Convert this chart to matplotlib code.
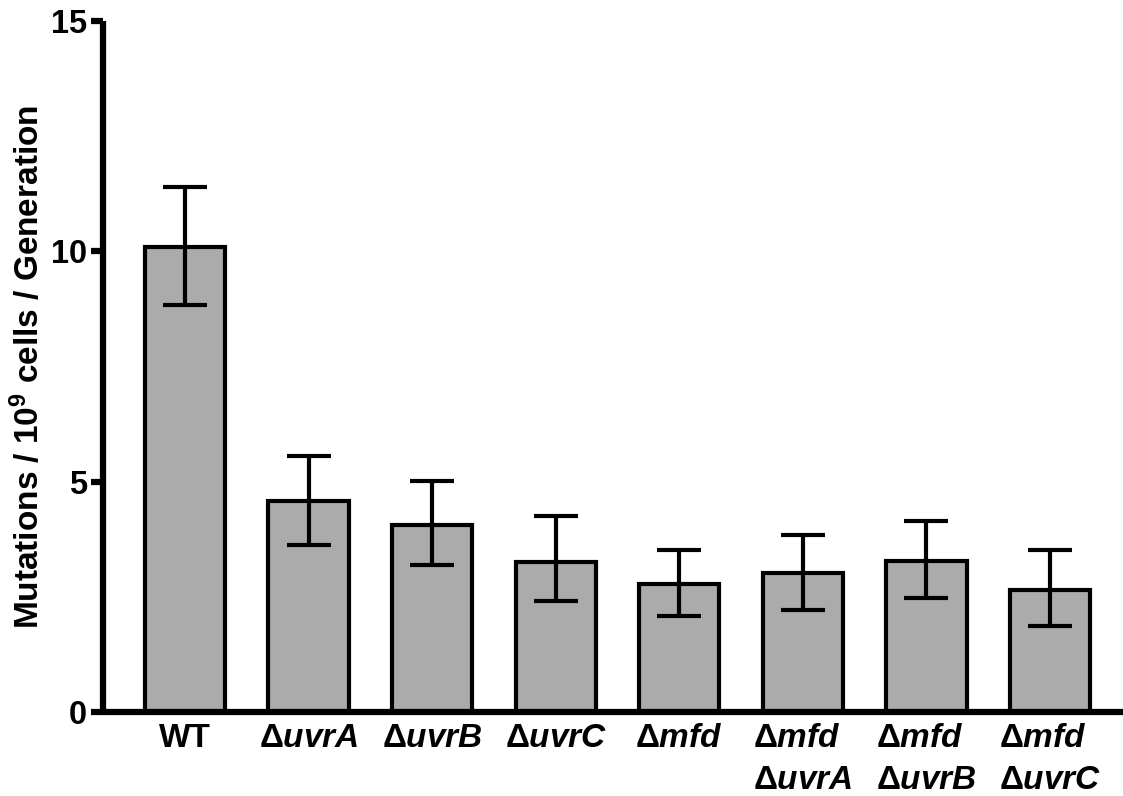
import matplotlib
matplotlib.use('Agg')
import matplotlib.pyplot as plt
import numpy as np

plt.rcParams['font.family'] = ['Liberation Sans', 'DejaVu Sans']
plt.rcParams['font.weight'] = 'bold'
plt.rcParams['mathtext.fontset'] = 'custom'
plt.rcParams['mathtext.rm'] = 'Liberation Sans:bold'
plt.rcParams['mathtext.bf'] = 'Liberation Sans:bold'
plt.rcParams['mathtext.it'] = 'Liberation Sans:bold:italic'
plt.rcParams['mathtext.bfit'] = 'Liberation Sans:bold:italic'

# strains and measured mutation rates (mean, error bar up / down)
strains = ['WT', r'$\mathbf{\Delta}\mathbfit{uvrA}$', r'$\mathbf{\Delta}\mathbfit{uvrB}$',
           r'$\mathbf{\Delta}\mathbfit{uvrC}$', r'$\mathbf{\Delta}\mathbfit{mfd}$',
           r'$\mathbf{\Delta}\mathbfit{mfd}$' + '\n' + r'$\mathbf{\Delta}\mathbfit{uvrA}$',
           r'$\mathbf{\Delta}\mathbfit{mfd}$' + '\n' + r'$\mathbf{\Delta}\mathbfit{uvrB}$',
           r'$\mathbf{\Delta}\mathbfit{mfd}$' + '\n' + r'$\mathbf{\Delta}\mathbfit{uvrC}$']
rates = [10.09, 4.57, 4.06, 3.26, 2.78, 3.02, 3.28, 2.64]
err_up = [1.31, 0.98, 0.96, 1.00, 0.73, 0.83, 0.87, 0.87]
err_down = [1.26, 0.95, 0.87, 0.85, 0.69, 0.80, 0.80, 0.78]
yticks = [0, 5, 10, 15]

fig = plt.figure(figsize=(11.23, 7.96), dpi=100)
ax = fig.add_axes([103/1123, 84/796, 1020/1123, 691/796])

x = np.arange(len(strains))
ax.bar(x, rates, width=0.65, color='#ababab', edgecolor='black', linewidth=3, zorder=2)
ax.errorbar(x, rates, yerr=[err_down, err_up], fmt='none', ecolor='black',
            elinewidth=3, capsize=15.5, capthick=3, zorder=3)

ax.set_xlim(-0.663, 7.59)
ax.set_ylim(0, 15)
ax.set_yticks(yticks)
ax.set_xticks(x)
ax.set_xticklabels(strains, fontsize=24, multialignment='left', linespacing=1.45)
ax.tick_params(axis='x', length=0, pad=8)
ax.tick_params(axis='y', length=8.5, width=4.5, pad=3, labelsize=23.5)
for t in ax.get_yticklabels():
    t.set_fontweight('bold')

for s in ['top', 'right']:
    ax.spines[s].set_visible(False)
for s in ['left', 'bottom']:
    ax.spines[s].set_linewidth(4.5)
    ax.spines[s].set_capstyle('butt')

ax.set_ylabel(r'Mutations / 10$^{\mathbf{9}}$ cells / Generation', fontsize=24,
              fontweight='bold', va='baseline')
ax.yaxis.set_label_coords((39 - 103) / 1020, 0.5)

fig.savefig('out.png', dpi=100)
